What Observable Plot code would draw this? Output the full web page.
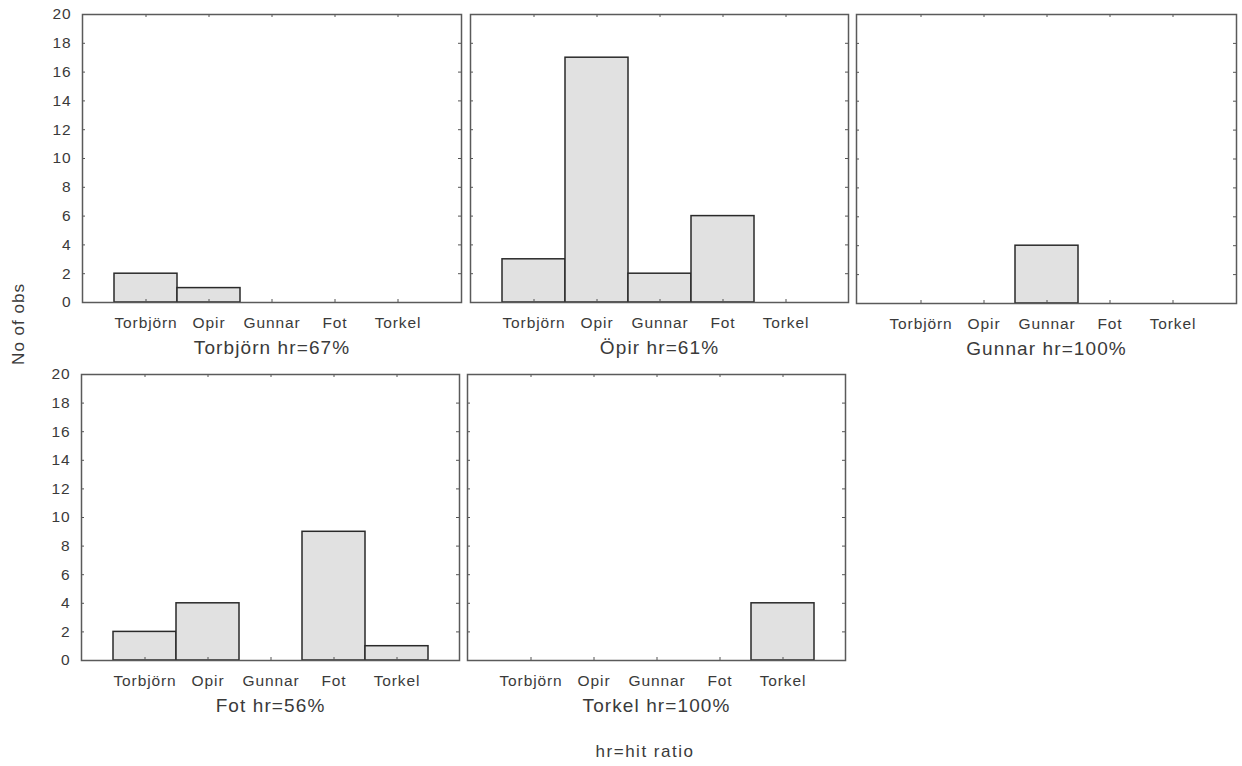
<!DOCTYPE html>
<html>
<head>
<meta charset="utf-8">
<script src="https://cdn.jsdelivr.net/npm/d3@7"></script>
<script src="https://cdn.jsdelivr.net/npm/@observablehq/plot@0.6"></script>
<style>
  body { margin: 0; background: #fff; font-family: "Liberation Sans", Arial, sans-serif; }
  #chart { position: relative; width: 1242px; height: 766px; overflow: hidden; background: #fff; }
  .panel { position: absolute; }
  .panel svg { background: transparent !important; max-width: none !important; overflow: visible; }
  .panel text { letter-spacing: 0.9px; }
  .panel g[aria-label="text"] text { letter-spacing: 1.1px; }
  .caption { position: absolute; color: #3a3a3a; white-space: nowrap; font-size: 17px; line-height: 17px; }
</style>
</head>
<body>
<div id="chart"></div>
<script>
// Predicted speaker (bars) for each actual speaker (panel)
const categories = ["Torbjörn", "Opir", "Gunnar", "Fot", "Torkel"];
const panelNames = ["Torbjörn", "Öpir", "Gunnar", "Fot", "Torkel"];
const hitRatios = [67, 61, 100, 56, 100];

const countsTorbjorn = [2, 1, 0, 0, 0];
const countsOpir     = [3, 17, 2, 6, 0];
const countsGunnar   = [0, 0, 4, 0, 0];
const countsFot      = [2, 4, 0, 9, 1];
const countsTorkel   = [0, 0, 0, 0, 4];

const yTicks = [0, 2, 4, 6, 8, 10, 12, 14, 16, 18, 20];
const yLabel = "No of obs";
const footnote = "hr=hit ratio";

const seriesList = [countsTorbjorn, countsOpir, countsGunnar, countsFot, countsTorkel];

// Frame placement of each small multiple on the page (pixels)
const frames = [
  {left: 82,  top: 14,  width: 379, height: 288, yLabels: true},
  {left: 470, top: 14,  width: 378, height: 288, yLabels: false},
  {left: 856, top: 14,  width: 380, height: 289, yLabels: false},
  {left: 81,  top: 374, width: 378, height: 286, yLabels: true},
  {left: 467, top: 374, width: 378, height: 286, yLabels: false}
];

const chart = document.getElementById("chart");
const font = '"Liberation Sans", Arial, sans-serif';

seriesList.forEach((series, k) => {
  const f = frames[k];
  const mL = f.yLabels ? 46 : 4, mR = 4, mT = 6, mB = 66;
  const data = categories.map((c, i) => ({category: c, count: series[i]}));
  const title = `${panelNames[k]} hr=${hitRatios[k]}%`;

  const plot = Plot.plot({
    width: f.width + mL + mR,
    height: f.height + mT + mB,
    marginLeft: mL, marginRight: mR, marginTop: mT, marginBottom: mB,
    style: {fontFamily: font, fontSize: "15.5px", color: "#3a3a3a", background: "transparent"},
    x: {domain: categories, paddingInner: 0, paddingOuter: 0.5},
    y: f.yLabels ? {domain: [0, 20]} : {domain: [0, 20], axis: null},
    marks: [
      Plot.barY(data.filter(d => d.count > 0), {
        x: "category", y: "count",
        fill: "#e1e1e1", stroke: "#2a2a2a", strokeWidth: 1.5
      }),
      // small inward tick marks on all four sides of the frame
      Plot.ruleY(yTicks, {insetRight: f.width - 3, stroke: "#555"}),
      Plot.ruleY(yTicks, {insetLeft: f.width - 3, stroke: "#555"}),
      Plot.ruleX(categories, {insetBottom: f.height - 3, stroke: "#555"}),
      Plot.ruleX(categories, {insetTop: f.height - 3, stroke: "#555"}),
      Plot.frame({stroke: "#5a5a5a", strokeWidth: 1.5}),
      Plot.axisX({tickSize: 0, tickPadding: 14, fontSize: 15.5, label: null}),
      f.yLabels ? Plot.axisY({ticks: yTicks, tickSize: 0, tickPadding: 11, fontSize: 15.5, label: null}) : null,
      Plot.text([title], {frameAnchor: "bottom", dy: 51, fontSize: 19, fill: "#3a3a3a"})
    ]
  });

  const div = document.createElement("div");
  div.className = "panel";
  div.style.left = (f.left - mL) + "px";
  div.style.top = (f.top - mT) + "px";
  div.appendChild(plot);
  chart.appendChild(div);
});

// shared y-axis title
const yt = document.createElement("div");
yt.className = "caption";
yt.textContent = yLabel;
yt.style.letterSpacing = "1px";
yt.style.left = "18px";
yt.style.top = "324px";
yt.style.transform = "translate(-50%, -50%) rotate(-90deg)";
chart.appendChild(yt);

// footnote
const fn = document.createElement("div");
fn.className = "caption";
fn.textContent = footnote;
fn.style.letterSpacing = "1.5px";
fn.style.left = "645px";
fn.style.top = "743px";
fn.style.transform = "translateX(-50%)";
chart.appendChild(fn);
</script>
</body>
</html>
